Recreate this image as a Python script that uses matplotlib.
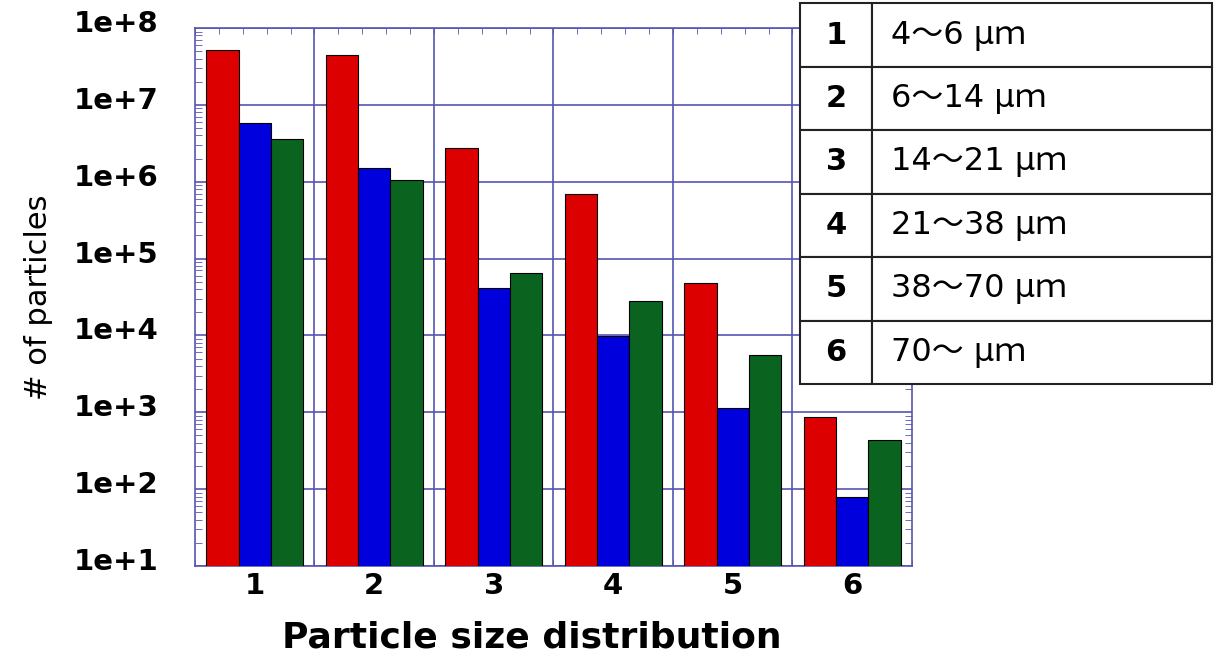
import matplotlib
matplotlib.use('Agg')
import matplotlib.pyplot as plt
import matplotlib.transforms as mtransforms
import numpy as np
from matplotlib.table import Table
from matplotlib.ticker import FixedLocator, LogLocator, NullFormatter

groups = ['1', '2', '3', '4', '5', '6']
size_ranges = ['4～6 μｍ', '6～14 μｍ', '14～21 μｍ', '21～38 μｍ', '38～70 μｍ', '70～ μｍ']

red_vals = [5.2e7, 4.5e7, 2.75e6, 6.9e5, 4.8e4, 8.7e2]
blue_vals = [5.8e6, 1.5e6, 4.1e4, 9.9e3, 1.15e3, 78]
green_vals = [3.6e6, 1.05e6, 6.5e4, 2.8e4, 5.6e3, 440]

series = [red_vals, blue_vals, green_vals]
colors = ['#dd0000', '#0000dd', '#0a6420']
grid_col = '#5555b0'


def plot():
    fig = plt.figure(figsize=(12.14, 6.6), dpi=100)
    ax = fig.add_axes([0.1606, 0.1424, 0.5906, 0.8152])

    x = np.arange(1, len(groups) + 1)
    width = 0.27
    for i, (vals, c) in enumerate(zip(series, colors)):
        ax.bar(x + (i - 1) * width, vals, width, color=c, edgecolor='black',
               linewidth=0.8, zorder=3)

    ax.set_yscale('log')
    ax.set_ylim(10, 1e8)
    ax.set_xlim(0.5, 6.5)

    # grid on group boundaries and decades
    for b in np.arange(1.5, 6.5, 1.0):
        ax.axvline(b, color=grid_col, lw=1.2, zorder=1)
    ax.yaxis.grid(True, which='major', color=grid_col, lw=1.2, zorder=1)
    ax.set_axisbelow(True)

    ax.set_xticks(x, groups)
    ax.set_yticks([10 ** k for k in range(1, 9)],
                  ['1e+%d' % k for k in range(1, 9)])
    ax.xaxis.set_minor_locator(FixedLocator(np.arange(0.5, 6.51, 0.2)))
    ax.yaxis.set_minor_locator(LogLocator(base=10, subs=np.arange(2, 10)))
    ax.yaxis.set_minor_formatter(NullFormatter())

    ax.tick_params(axis='both', which='both', direction='in', colors=grid_col,
                   top=True, right=True)
    ax.tick_params(axis='both', which='major', length=0, labelsize=21,
                   labelcolor='black')
    ax.tick_params(axis='x', which='major', pad=4)
    ax.tick_params(axis='y', which='major', pad=26)
    ax.tick_params(axis='x', which='minor', length=4)
    ax.tick_params(axis='y', which='minor', length=5)
    up = mtransforms.ScaledTranslation(0, 0.07, fig.dpi_scale_trans)
    for lab in ax.get_yticklabels():
        lab.set_fontweight('bold')
        lab.set_transform(lab.get_transform() + up)
    for lab in ax.get_xticklabels():
        lab.set_fontweight('bold')
    for sp in ax.spines.values():
        sp.set_color(grid_col)
        sp.set_linewidth(1.2)

    ax.set_xlabel('Particle size distribution', fontsize=26, fontweight='bold')
    ax.xaxis.set_label_coords(0.47, -0.102)
    ax.set_ylabel('# of particles', fontsize=22)
    ax.yaxis.set_label_coords(-0.198, 0.5)

    # size range table in the upper right
    tax = fig.add_axes([0.659, 0.418, 0.3394, 0.577])
    tax.axis('off')
    tbl = Table(tax, bbox=[0, 0, 1, 1])
    n = len(groups)
    for r in range(n):
        c0 = tbl.add_cell(r, 0, 0.175, 1.0 / n, text=groups[r], loc='center')
        c1 = tbl.add_cell(r, 1, 0.825, 1.0 / n, text=size_ranges[r], loc='left')
        c1.PAD = 0.055
        for cell in (c0, c1):
            cell.set_edgecolor('#222222')
            cell.set_linewidth(1.5)
            cell.set_facecolor('white')
        c0.set_text_props(fontsize=22, fontweight='bold',
                          family=['DejaVu Sans', 'Noto Sans CJK JP'])
        c1.set_text_props(fontsize=23,
                          family=['DejaVu Sans', 'Noto Sans CJK JP'])
    tbl.auto_set_font_size(False)
    tax.add_table(tbl)

    plt.savefig('out.png', dpi=100)


if __name__ == '__main__':
    plot()
